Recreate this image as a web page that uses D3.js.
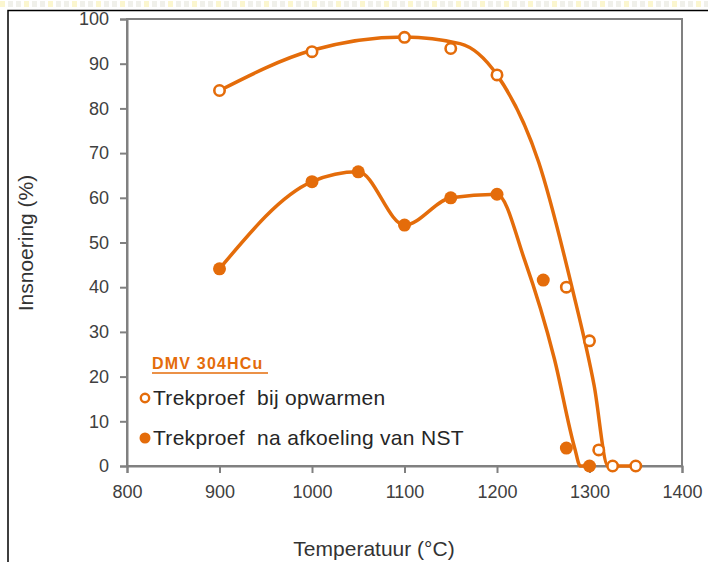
<!DOCTYPE html>
<script src="https://d3js.org/d3.v7.min.js"></script>
<style>
  body { margin: 0; background: #fff; font-family: Arial, "Liberation Sans", sans-serif; }
  .tick text { fill: #404040; font-size: 18px; }
  .axis path, .axis line { stroke: #808080; stroke-width: 2; }
</style>
<body></body>
<script>
// measured points
var openTemps = [900, 1000, 1100, 1150, 1200, 1275, 1300, 1310, 1325, 1350],
    openValues = [84, 92.7, 95.9, 93.4, 87.5, 40, 28, 3.6, 0, 0];
var fullTemps = [900, 1000, 1050, 1100, 1150, 1200, 1250, 1275, 1300],
    fullValues = [44.1, 63.6, 65.8, 53.9, 60, 60.8, 41.6, 4, 0];

// smoothed trend lines as drawn in the chart
var openCurveTemps = [900, 1000, 1100, 1160, 1200, 1245, 1281, 1305, 1320, 1350],
    openCurveValues = [84, 93, 96, 94.5, 87.5, 68, 40, 18, 0, 0];
var fullCurveTemps = [900, 1000, 1050, 1100, 1150, 1200, 1230, 1262, 1284, 1290, 1300],
    fullCurveValues = [44.1, 63.6, 65.8, 53.9, 60, 60.8, 46, 24, 4, 0, 0];

var xTicks = [800, 900, 1000, 1100, 1200, 1300, 1400],
    yTicks = [0, 10, 20, 30, 40, 50, 60, 70, 80, 90, 100];
var legendLabels = ["Trekproef  bij opwarmen", "Trekproef  na afkoeling van NST"];
var orange = "#e46c0a";

var W = 708, H = 562;
var svg = d3.select("body").append("svg").attr("width", W).attr("height", H);

// dotted band above the frame
var band = svg.append("g");
d3.range(0, W, 8).forEach(function(d, i) {
  band.append("rect").attr("x", d).attr("y", 1).attr("width", 5).attr("height", 6)
    .attr("fill", i % 3 === 0 ? "#fbf6cf" : "#f0f0ea");
});
svg.append("path").attr("d", "M8," + H + "V10.5H" + W)
  .attr("fill", "none").attr("stroke", "#000").attr("stroke-width", 1.5);

var plotL = 127, plotR = 682, plotT = 19, plotB = 466;
var x = d3.scaleLinear().domain([800, 1400]).range([plotL, plotR]),
    y = d3.scaleLinear().domain([0, 100]).range([plotB, plotT]);

// plot frame
svg.append("rect").attr("x", plotL).attr("y", plotT)
  .attr("width", plotR - plotL).attr("height", plotB - plotT)
  .attr("fill", "none").attr("stroke", "#808080").attr("stroke-width", 2);

svg.append("g").attr("class", "axis")
  .attr("transform", "translate(0," + plotB + ")")
  .call(d3.axisBottom(x).tickValues(xTicks).tickSize(7).tickPadding(12).tickFormat(d3.format("d")))
  .call(function(g) { g.selectAll("text").attr("dy", "0.71em"); });
svg.append("g").attr("class", "axis")
  .attr("transform", "translate(" + plotL + ",0)")
  .call(d3.axisLeft(y).tickValues(yTicks).tickSize(7).tickPadding(11));
svg.selectAll(".axis text").attr("font-family", "Arial, 'Liberation Sans', sans-serif");

// axis titles
svg.append("text").attr("x", 374).attr("y", 556).attr("text-anchor", "middle")
  .attr("font-size", 21).attr("fill", "#333").text("Temperatuur (°C)");
svg.append("text").attr("transform", "translate(26,243) rotate(-90)")
  .attr("text-anchor", "middle").attr("dy", "0.35em")
  .attr("font-size", 21).attr("fill", "#333").text("Insnoering (%)");

// curves
var line = d3.line().curve(d3.curveMonotoneX)
  .x(function(d) { return x(d[0]); })
  .y(function(d) { return y(d[1]); });
[[openCurveTemps, openCurveValues], [fullCurveTemps, fullCurveValues]].forEach(function(s) {
  svg.append("path")
    .attr("d", line(d3.zip(s[0], s[1])))
    .attr("fill", "none").attr("stroke", orange).attr("stroke-width", 3.5)
    .attr("stroke-linejoin", "round").attr("stroke-linecap", "round");
});

// markers
svg.append("g").selectAll("circle").data(d3.zip(fullTemps, fullValues)).enter()
  .append("circle")
  .attr("cx", function(d) { return x(d[0]); })
  .attr("cy", function(d) { return y(d[1]); })
  .attr("r", 6.5).attr("fill", orange);
svg.append("g").selectAll("circle").data(d3.zip(openTemps, openValues)).enter()
  .append("circle")
  .attr("cx", function(d) { return x(d[0]); })
  .attr("cy", function(d) { return y(d[1]); })
  .attr("r", 5.2).attr("fill", "#fff").attr("stroke", orange).attr("stroke-width", 2.6);

// legend
var lg = svg.append("g");
lg.append("text").attr("x", 152).attr("y", 369)
  .attr("font-size", 16).attr("font-weight", "bold").attr("letter-spacing", 1.2)
  .attr("fill", orange).text("DMV 304HCu");
lg.append("line").attr("x1", 152).attr("x2", 268).attr("y1", 373).attr("y2", 373)
  .attr("stroke", orange).attr("stroke-width", 1.5);
legendLabels.forEach(function(t, i) {
  var cy = 398 + i * 40;
  var c = lg.append("circle").attr("cx", 145).attr("cy", cy);
  if (i === 0) c.attr("r", 4.2).attr("fill", "#fff").attr("stroke", orange).attr("stroke-width", 2.4);
  else c.attr("r", 5.5).attr("fill", orange);
  lg.append("text").attr("x", 153).attr("y", cy).attr("dy", "0.35em")
    .attr("font-size", 21).attr("letter-spacing", 0.3).attr("fill", "#262626")
    .style("white-space", "pre").text(t);
});
</script>
